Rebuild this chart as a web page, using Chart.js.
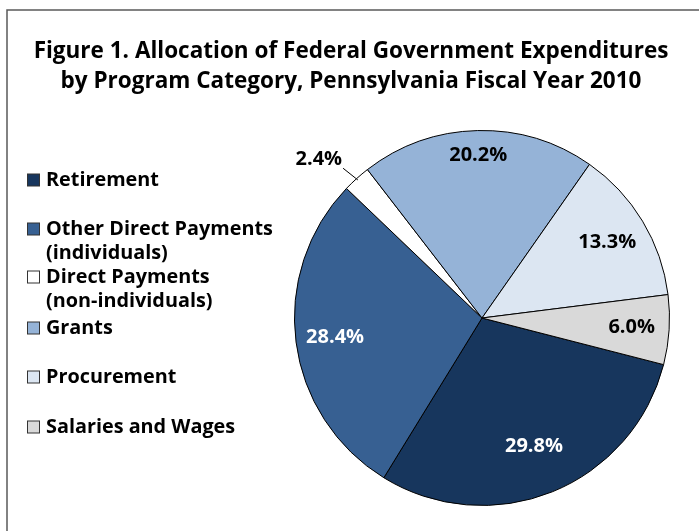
<!DOCTYPE html>
<html>
<head>
<meta charset="utf-8">
<script src="https://cdn.jsdelivr.net/npm/chart.js@4.4.1/dist/chart.umd.min.js"></script>
<style>
  html, body { margin: 0; padding: 0; background: #fff; }
  #wrap { width: 699px; height: 531px; position: relative; }
</style>
</head>
<body>
<div id="wrap"><canvas id="pieChart" width="699" height="531"></canvas></div>
<script>
const categories = ["Retirement", "Other Direct Payments (individuals)", "Direct Payments (non-individuals)", "Grants", "Procurement", "Salaries and Wages"];
const shares = [29.8, 28.4, 2.4, 20.2, 13.3, 6.0];
const sliceColors = ["#17365D", "#376092", "#FFFFFF", "#95B3D7", "#DCE6F2", "#D9D9D9"];
const labelColors = ["#FFFFFF", "#FFFFFF", "#000000", "#000000", "#000000", "#000000"];
const titleLines = ["Figure 1. Allocation of Federal Government Expenditures", "by Program Category, Pennsylvania Fiscal Year 2010"];

const FONT = "'Open Sans'";
// how far out each percentage sits, as a share of the radius
const labelRadius = [0.74, 0.79, 1.0, 0.87, 0.78, 0.80];

// pick a font size so a sample string has the width it has in the original
function fitFont(ctx, sample, width) {
    ctx.font = "bold 20px " + FONT;
    let size = 20 * width / ctx.measureText(sample).width;
    return "bold " + size.toFixed(2) + "px " + FONT;
}

// grey frame (only left and top edges show in the original) and the title
const framePlugin = {
    id: 'frame',
    beforeDraw(chart) {
        let ctx = chart.ctx;
        ctx.save();
        ctx.strokeStyle = "#595959";
        ctx.lineWidth = 1.5;
        ctx.beginPath();
        ctx.moveTo(7, 531);
        ctx.lineTo(7, 10);
        ctx.lineTo(699, 10);
        ctx.stroke();

        ctx.font = fitFont(ctx, titleLines[0], 635);
        ctx.fillStyle = "#000";
        ctx.textAlign = "center";
        ctx.textBaseline = "alphabetic";
        ctx.fillText(titleLines[0], 351, 58);
        ctx.fillText(titleLines[1], 351, 88);
        ctx.restore();
    }
};

// legend on the left, long names wrap before the bracket
const sideLegend = {
    id: 'sideLegend',
    afterDraw(chart) {
        let ctx = chart.ctx;
        let rows = [180, 229, 277, 328, 377, 427];
        ctx.save();
        ctx.font = fitFont(ctx, "Other Direct Payments", 227);
        ctx.textBaseline = "middle";
        ctx.textAlign = "left";
        categories.forEach((name, i) => {
            let y = rows[i];
            ctx.fillStyle = sliceColors[i];
            ctx.fillRect(27.5, y - 6, 12, 12);
            ctx.strokeStyle = "#333";
            ctx.lineWidth = 1;
            ctx.strokeRect(27.5, y - 6, 12, 12);
            ctx.fillStyle = "#000";
            let parts = name.split(" (");
            ctx.fillText(parts[0], 46, y);
            if (parts[1]) ctx.fillText("(" + parts[1], 46, y + 24);
        });
        ctx.restore();
    }
};

// percentage labels, the thin slice gets a leader line
const sliceLabels = {
    id: 'sliceLabels',
    afterDatasetsDraw(chart) {
        let ctx = chart.ctx;
        let arcs = chart.getDatasetMeta(0).data;
        ctx.save();
        ctx.font = fitFont(ctx, "29.8%", 58);
        ctx.textBaseline = "middle";
        arcs.forEach((arc, i) => {
            let mid = (arc.startAngle + arc.endAngle) / 2;
            let R = arc.outerRadius;
            let text = shares[i].toFixed(1) + "%";
            if (shares[i] < 5) {
                let x1 = arc.x + Math.cos(mid) * R * 0.99, y1 = arc.y + Math.sin(mid) * R * 0.99;
                let x2 = arc.x + Math.cos(mid) * R * 1.06, y2 = arc.y + Math.sin(mid) * R * 1.06;
                ctx.strokeStyle = "#000";
                ctx.lineWidth = 1;
                ctx.beginPath();
                ctx.moveTo(x1, y1);
                ctx.lineTo(x2 - 6, y2 - 2);
                ctx.stroke();
                ctx.fillStyle = "#000";
                ctx.textAlign = "right";
                ctx.fillText(text, x2 - 7, y2 - 11);
            } else {
                let r = R * labelRadius[i];
                ctx.fillStyle = labelColors[i];
                ctx.textAlign = "center";
                ctx.fillText(text, arc.x + Math.cos(mid) * r, arc.y + Math.sin(mid) * r);
            }
        });
        ctx.restore();
    }
};

let pieData = {
    labels: categories,
    datasets: [{
        data: shares,
        backgroundColor: sliceColors,
        borderColor: "#000",
        borderWidth: 1
    }]
};

let pieOptions = {
    responsive: false,
    animation: false,
    rotation: 104.4,
    layout: { padding: { left: 294, right: 29, top: 130, bottom: 25 } },
    plugins: {
        legend: { display: false },
        tooltip: { enabled: false },
        title: { display: false }
    }
};

let ctx = document.getElementById("pieChart").getContext("2d");
new Chart(ctx, { type: 'pie', data: pieData, options: pieOptions, plugins: [framePlugin, sideLegend, sliceLabels] });
</script>
</body>
</html>
